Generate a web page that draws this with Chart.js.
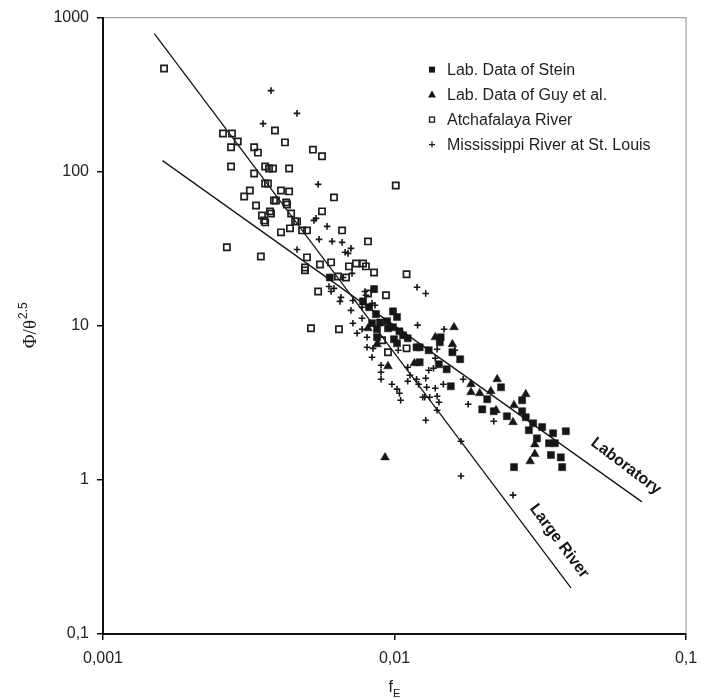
<!DOCTYPE html>
<html lang="en">
<head>
    <meta charset="UTF-8">
    <title>Phi / theta^2.5 versus fE</title>
    <style>
        body {
            margin: 0;
            background: #fff;
        }

        .chart-box {
            width: 711px;
            height: 699px;
            position: relative;
        }
    </style>
</head>
<body>
    <div class="chart-box">
        <canvas id="fitChart" width="711" height="699"></canvas>
    </div>

    <script src="https://cdn.jsdelivr.net/npm/chart.js"></script>
    <script>
        // values (x = fE, y = Phi/theta^2.5)
        const steinF = [0.0060, 0.00851, 0.0078, 0.00818, 0.00864, 0.00988, 0.0102, 0.00837, 0.00892, 0.00943,
            0.0095, 0.00871, 0.00871, 0.00988, 0.0104, 0.0107, 0.00996, 0.0102, 0.0111, 0.0119,
            0.0122, 0.0131, 0.0144, 0.0143, 0.0158, 0.0168, 0.0122, 0.0142, 0.0151, 0.0156,
            0.0232, 0.0208, 0.0200, 0.0219, 0.0243, 0.0274, 0.0274, 0.0282, 0.0299, 0.0289,
            0.0321, 0.0308, 0.0350, 0.0387, 0.0339, 0.0355, 0.0344, 0.0372, 0.0376, 0.0257];
        const steinPhi = [20.6, 17.3, 14.4, 13.2, 11.9, 12.4, 11.4, 10.4, 10.5, 10.7,
            9.63, 9.49, 8.42, 9.78, 9.21, 8.68, 8.18, 7.70, 8.30, 7.25,
            7.25, 6.94, 8.42, 7.82, 6.73, 6.07, 5.80, 5.63, 5.22, 4.05,
            3.99, 3.34, 2.87, 2.79, 2.59, 3.29, 2.79, 2.55, 2.33, 2.10,
            2.20, 1.86, 2.01, 2.07, 1.73, 1.73, 1.45, 1.40, 1.21, 1.21];

        const guyF = [0.00811, 0.00871, 0.0095, 0.0117, 0.0138, 0.0160, 0.0158, 0.0183, 0.0183, 0.0196,
            0.0214, 0.0225, 0.0223, 0.0257, 0.0282, 0.0255, 0.0303, 0.0303, 0.0292, 0.00928];
        const guyPhi = [9.63, 7.59, 5.46, 5.71, 8.42, 9.78, 7.59, 4.18, 3.71, 3.65,
            3.76, 4.50, 2.83, 3.05, 3.60, 2.37, 1.70, 1.47, 1.32, 1.40];

        const atchF = [0.00162, 0.00258, 0.00277, 0.00275, 0.0029, 0.00275, 0.0033, 0.0034, 0.0036, 0.00371,
            0.00383, 0.00389, 0.00421, 0.00435, 0.00525, 0.00564, 0.0033, 0.0036, 0.00368, 0.00319,
            0.00305, 0.00408, 0.00435, 0.00386, 0.00392, 0.00425, 0.00428, 0.00335, 0.00374, 0.00377,
            0.00351, 0.00357, 0.0036, 0.00442, 0.00456, 0.00463, 0.00438, 0.00408, 0.00482, 0.00501,
            0.00564, 0.0062, 0.00661, 0.00266, 0.00348, 0.00501, 0.00493, 0.00493, 0.00555, 0.00606,
            0.00547, 0.0064, 0.00682, 0.00698, 0.00738, 0.0078, 0.00798, 0.00851, 0.00811, 0.0101,
            0.0110, 0.00811, 0.00935, 0.00517, 0.00645, 0.00906, 0.0095, 0.0110];
        const atchPhi = [467, 177, 177, 144, 157, 108, 144, 133, 108, 105,
            105, 185, 155, 105, 139, 126, 97.4, 83.9, 83.9, 75.6,
            69.1, 75.6, 74.5, 65.1, 65.1, 63.2, 61.3, 60.4, 55.3, 53.6,
            52.0, 48.3, 46.9, 53.6, 47.6, 47.6, 42.9, 40.4, 41.6, 41.6,
            55.3, 68.1, 41.6, 32.3, 28.2, 27.8, 23.9, 22.9, 25.0, 25.8,
            16.7, 20.9, 20.6, 24.3, 25.4, 25.4, 24.3, 22.2, 35.3, 81.4,
            21.6, 16.2, 15.8, 9.63, 9.49, 8.05, 6.73, 7.14];

        const missF = [0.00377, 0.00463, 0.00354, 0.00547, 0.00529, 0.00538, 0.00587, 0.00551, 0.00611, 0.00661,
            0.00709, 0.00677, 0.00693, 0.00463, 0.00715, 0.00666, 0.00596, 0.0062, 0.00606, 0.00655,
            0.0065, 0.00709, 0.00774, 0.00837, 0.0072, 0.00774, 0.00744, 0.00774, 0.00805, 0.00805,
            0.00837, 0.00844, 0.00899, 0.00899, 0.00899, 0.0098, 0.0102, 0.0104, 0.0105, 0.0111,
            0.0113, 0.0111, 0.0119, 0.0121, 0.0128, 0.0131, 0.0136, 0.0138, 0.0140, 0.0138,
            0.0147, 0.0129, 0.0125, 0.0132, 0.0140, 0.0142, 0.0140, 0.0128, 0.0127, 0.0172,
            0.0179, 0.0161, 0.0148, 0.01195, 0.0128, 0.0120, 0.0103, 0.0169, 0.0169, 0.0255,
            0.0219, 0.00857, 0.00792, 0.00798, 0.0072];
        const missPhi = [336, 239, 205, 82.7, 48.3, 49.8, 44.2, 36.4, 35.3, 34.8,
            31.8, 30.0, 29.5, 31.3, 21.9, 20.6, 18.0, 17.5, 16.7, 15.3,
            14.4, 12.6, 13.2, 14.0, 10.4, 11.2, 8.94, 9.49, 8.42, 7.25,
            6.25, 7.14, 5.55, 4.99, 4.50, 4.18, 3.88, 3.65, 3.29, 5.38,
            4.78, 4.37, 4.50, 4.18, 4.57, 5.15, 5.30, 6.16, 7.04, 3.93,
            4.18, 3.99, 3.44, 3.44, 3.49, 3.19, 2.83, 2.44, 3.44, 4.50,
            3.10, 6.94, 9.49, 17.8, 16.2, 10.1, 6.94, 1.78, 1.06, 0.796,
            2.40, 13.6, 16.7, 15.8, 14.6];

        // end points of the two fitted lines
        const riverLineF = [0.00150, 0.0403];
        const riverLinePhi = [787, 0.199];
        const labLineF = [0.00160, 0.0706];
        const labLinePhi = [118, 0.72];

        const xTicks = [0.001, 0.01, 0.1];
        const yTicks = [0.1, 1, 10, 100, 1000];

        const seriesNames = ['Lab. Data of Stein', 'Lab. Data of Guy et al.', 'Atchafalaya River', 'Mississippi River at St. Louis'];

        const ink = '#161616';
        const sans = 'Arial, "Liberation Sans", Helvetica, sans-serif';

        function pairs(xs, ys) {
            return xs.map((v, i) => ({ x: v, y: ys[i] }));
        }

        function fitLine(xs, ys) {
            return {
                type: 'line',
                data: pairs(xs, ys),
                borderColor: ink,
                borderWidth: 1.3,
                pointRadius: 0,
                fill: false
            };
        }

        const riverDs = fitLine(riverLineF, riverLinePhi);
        const labDs = fitLine(labLineF, labLinePhi);

        // line names drawn along the lines, legend and axis titles
        const decor = {
            id: 'decor',
            afterDraw(chart) {
                const { ctx, chartArea: a, scales: { x, y } } = chart;
                ctx.save();

                // light frame on top and right
                ctx.strokeStyle = '#a0a0a0';
                ctx.lineWidth = 1.2;
                ctx.beginPath();
                ctx.moveTo(a.left + 1, a.top);
                ctx.lineTo(a.right, a.top);
                ctx.lineTo(a.right, a.bottom - 1);
                ctx.stroke();

                // legend
                const lx = a.left + 329;
                ctx.font = '16px ' + sans;
                ctx.textBaseline = 'middle';
                seriesNames.forEach((name, i) => {
                    const ly = a.top + 52 + i * 25;
                    ctx.fillStyle = ink;
                    ctx.strokeStyle = ink;
                    ctx.lineWidth = 1.3;
                    if (i === 0) {
                        ctx.fillRect(lx - 3, ly - 3, 6, 6);
                    } else if (i === 1) {
                        ctx.beginPath();
                        ctx.moveTo(lx, ly - 4);
                        ctx.lineTo(lx + 4, ly + 3);
                        ctx.lineTo(lx - 4, ly + 3);
                        ctx.closePath();
                        ctx.fill();
                    } else if (i === 2) {
                        ctx.strokeRect(lx - 2.5, ly - 2.5, 5, 5);
                    } else {
                        ctx.beginPath();
                        ctx.moveTo(lx - 3, ly);
                        ctx.lineTo(lx + 3, ly);
                        ctx.moveTo(lx, ly - 3);
                        ctx.lineTo(lx, ly + 3);
                        ctx.stroke();
                    }
                    ctx.fillStyle = '#1e1e1e';
                    ctx.textAlign = 'left';
                    ctx.fillText(name, lx + 15, ly + 1);
                });

                // names of the fitted lines
                const tags = [
                    { text: 'Laboratory', xs: labLineF, ys: labLinePhi, at: [0.0622, 1.228], tilt: 0.03 },
                    { text: 'Large River', xs: riverLineF, ys: riverLinePhi, at: [0.0367, 0.401], tilt: 0 }
                ];
                ctx.font = 'bold 16px ' + sans;
                ctx.fillStyle = ink;
                ctx.textAlign = 'center';
                tags.forEach(t => {
                    const x1 = x.getPixelForValue(t.xs[0]), y1 = y.getPixelForValue(t.ys[0]);
                    const x2 = x.getPixelForValue(t.xs[1]), y2 = y.getPixelForValue(t.ys[1]);
                    const ang = Math.atan2(y2 - y1, x2 - x1) + t.tilt;
                    ctx.save();
                    ctx.translate(x.getPixelForValue(t.at[0]), y.getPixelForValue(t.at[1]));
                    ctx.rotate(ang);
                    ctx.fillText(t.text, 0, 0);
                    ctx.restore();
                });

                // y title: Phi / theta ^2.5
                ctx.save();
                ctx.translate(29, (a.top + a.bottom) / 2);
                ctx.rotate(-Math.PI / 2);
                ctx.textAlign = 'left';
                ctx.textBaseline = 'alphabetic';
                ctx.font = '19px "Liberation Serif", "Times New Roman", serif';
                const w1 = ctx.measureText('Φ/θ').width;
                ctx.font = '12px ' + sans;
                const w2 = ctx.measureText('2.5').width;
                const sx = -(w1 + w2) / 2;
                ctx.fillStyle = '#1e1e1e';
                ctx.font = '19px "Liberation Serif", "Times New Roman", serif';
                ctx.fillText('Φ/θ', sx, 7);
                ctx.font = '12px ' + sans;
                ctx.fillText('2.5', sx + w1 + 1, -2);
                ctx.restore();

                // x title: f with subscript E
                const cx = x.getPixelForValue(0.01);
                ctx.textAlign = 'left';
                ctx.textBaseline = 'alphabetic';
                ctx.font = '16px ' + sans;
                const wf = ctx.measureText('f').width;
                ctx.font = '11px ' + sans;
                const we = ctx.measureText('E').width;
                const fx = cx - (wf + we) / 2;
                ctx.font = '16px ' + sans;
                ctx.fillText('f', fx, 692);
                ctx.font = '11px ' + sans;
                ctx.fillText('E', fx + wf, 697);

                ctx.restore();
            }
        };

        function decades(list) {
            return function (scale) {
                scale.ticks = list.map(v => ({ value: v }));
            };
        }

        const ctx = document.getElementById('fitChart').getContext('2d');

        const fitChart = new Chart(ctx, {
            type: 'scatter',
            data: {
                datasets: [
                    {
                        label: seriesNames[0],
                        data: pairs(steinF, steinPhi),
                        pointStyle: 'rect',
                        pointRadius: 5,
                        backgroundColor: ink,
                        borderColor: ink,
                        borderWidth: 0.5
                    },
                    {
                        label: seriesNames[1],
                        data: pairs(guyF, guyPhi),
                        pointStyle: 'triangle',
                        pointRadius: 5,
                        backgroundColor: ink,
                        borderColor: ink,
                        borderWidth: 0.5
                    },
                    {
                        label: seriesNames[2],
                        data: pairs(atchF, atchPhi),
                        pointStyle: 'rect',
                        pointRadius: 4.4,
                        backgroundColor: 'rgba(255,255,255,0)',
                        borderColor: '#1e1e1e',
                        borderWidth: 1.7
                    },
                    {
                        label: seriesNames[3],
                        data: pairs(missF, missPhi),
                        pointStyle: 'cross',
                        pointRadius: 3.3,
                        backgroundColor: ink,
                        borderColor: ink,
                        borderWidth: 1.6
                    },
                    riverDs,
                    labDs
                ]
            },
            options: {
                responsive: false,
                animation: false,
                devicePixelRatio: 1,
                layout: {
                    padding: { top: 17, right: 25, left: 0, bottom: 0 }
                },
                plugins: {
                    legend: { display: false },
                    tooltip: { enabled: false }
                },
                scales: {
                    x: {
                        type: 'logarithmic',
                        min: 0.001,
                        max: 0.1,
                        afterBuildTicks: decades(xTicks),
                        afterFit: s => { s.height = 65; },
                        grid: { drawOnChartArea: false, drawTicks: true, tickLength: 6, color: '#111', lineWidth: 1.5 },
                        border: { display: true, color: '#111', width: 2 },
                        ticks: {
                            color: '#222',
                            font: { family: sans, size: 16 },
                            padding: 9,
                            maxRotation: 0,
                            autoSkip: false,
                            callback: v => String(v).replace('.', ',')
                        }
                    },
                    y: {
                        type: 'logarithmic',
                        min: 0.1,
                        max: 1000,
                        afterBuildTicks: decades(yTicks),
                        afterFit: s => { s.width = 103; },
                        grid: { drawOnChartArea: false, drawTicks: true, tickLength: 6, color: '#111', lineWidth: 1.5 },
                        border: { display: true, color: '#111', width: 2 },
                        ticks: {
                            color: '#222',
                            font: { family: sans, size: 16 },
                            padding: 8,
                            autoSkip: false,
                            callback: v => String(v).replace('.', ',')
                        }
                    }
                }
            },
            plugins: [decor]
        });
    </script>
</body>
</html>
